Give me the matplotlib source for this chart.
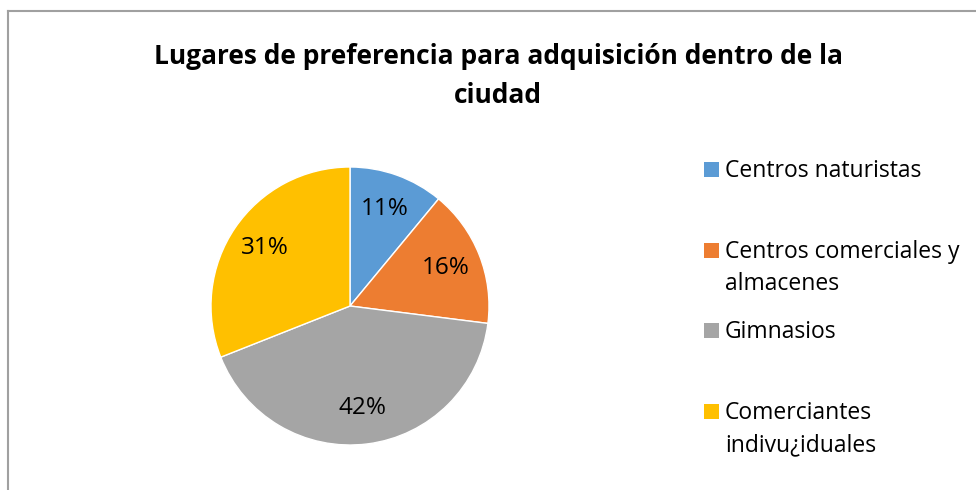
import matplotlib
matplotlib.use("Agg")
import matplotlib.pyplot as plt
from matplotlib.patches import Rectangle
from matplotlib.lines import Line2D

categories = ["Centros naturistas", "Centros comerciales y\nalmacenes", "Gimnasios",
              "Comerciantes\nindivu¿iduales"]
values = [11, 16, 42, 31]
colors = ["#5B9BD5", "#ED7D31", "#A5A5A5", "#FFC000"]
title = "Lugares de preferencia para adquisición dentro de la\nciudad"

W, H = 976, 490
plt.rcParams['font.family'] = ['Open Sans', 'DejaVu Sans']
fig = plt.figure(figsize=(W / 100, H / 100), dpi=100)

def fx(px):
    return px / W

def fy(py):
    return 1 - py / H

# frame lines (top and left)
fig.add_artist(Line2D([fx(8), 1], [fy(11), fy(11)], color="#A0A0A0", lw=1.5))
fig.add_artist(Line2D([fx(8), fx(8)], [fy(11), 0], color="#A0A0A0", lw=1.5))

# pie axes: center (350, 306), radius 139
cx, cy, r = 350, 306, 139
ax = fig.add_axes([fx(cx - r), fy(cy + r), 2 * r / W, 2 * r / H])
wedges, texts, autotexts = ax.pie(values, colors=colors, startangle=90, counterclock=False,
                                  autopct='%.0f%%', pctdistance=0.74,
                                  wedgeprops=dict(edgecolor="white", linewidth=1.0),
                                  textprops=dict(fontsize=17.5, color="black"))
ax.set_xlim(-1, 1)
ax.set_ylim(-1, 1)
ax.set_aspect('equal')
ax.axis('off')

# title
fig.text(fx(498), fy(43), title, ha='center', va='top', fontsize=19, fontweight='bold',
         linespacing=1.55, color="black")

# legend
sq_y = [169.5, 250.5, 330, 411.5]
last_base_y = [177, 290, 338.5, 451]
for cat, col, sy, by in zip(categories, colors, sq_y, last_base_y):
    fig.add_artist(Rectangle((fx(704), fy(sy + 7.5)), 15 / W, 15 / H, facecolor=col,
                             edgecolor='none', transform=fig.transFigure))
    fig.text(fx(725), fy(by), cat, ha='left', va='baseline', fontsize=16.5,
             linespacing=1.45, color="black")

fig.savefig("out.png", dpi=100)
